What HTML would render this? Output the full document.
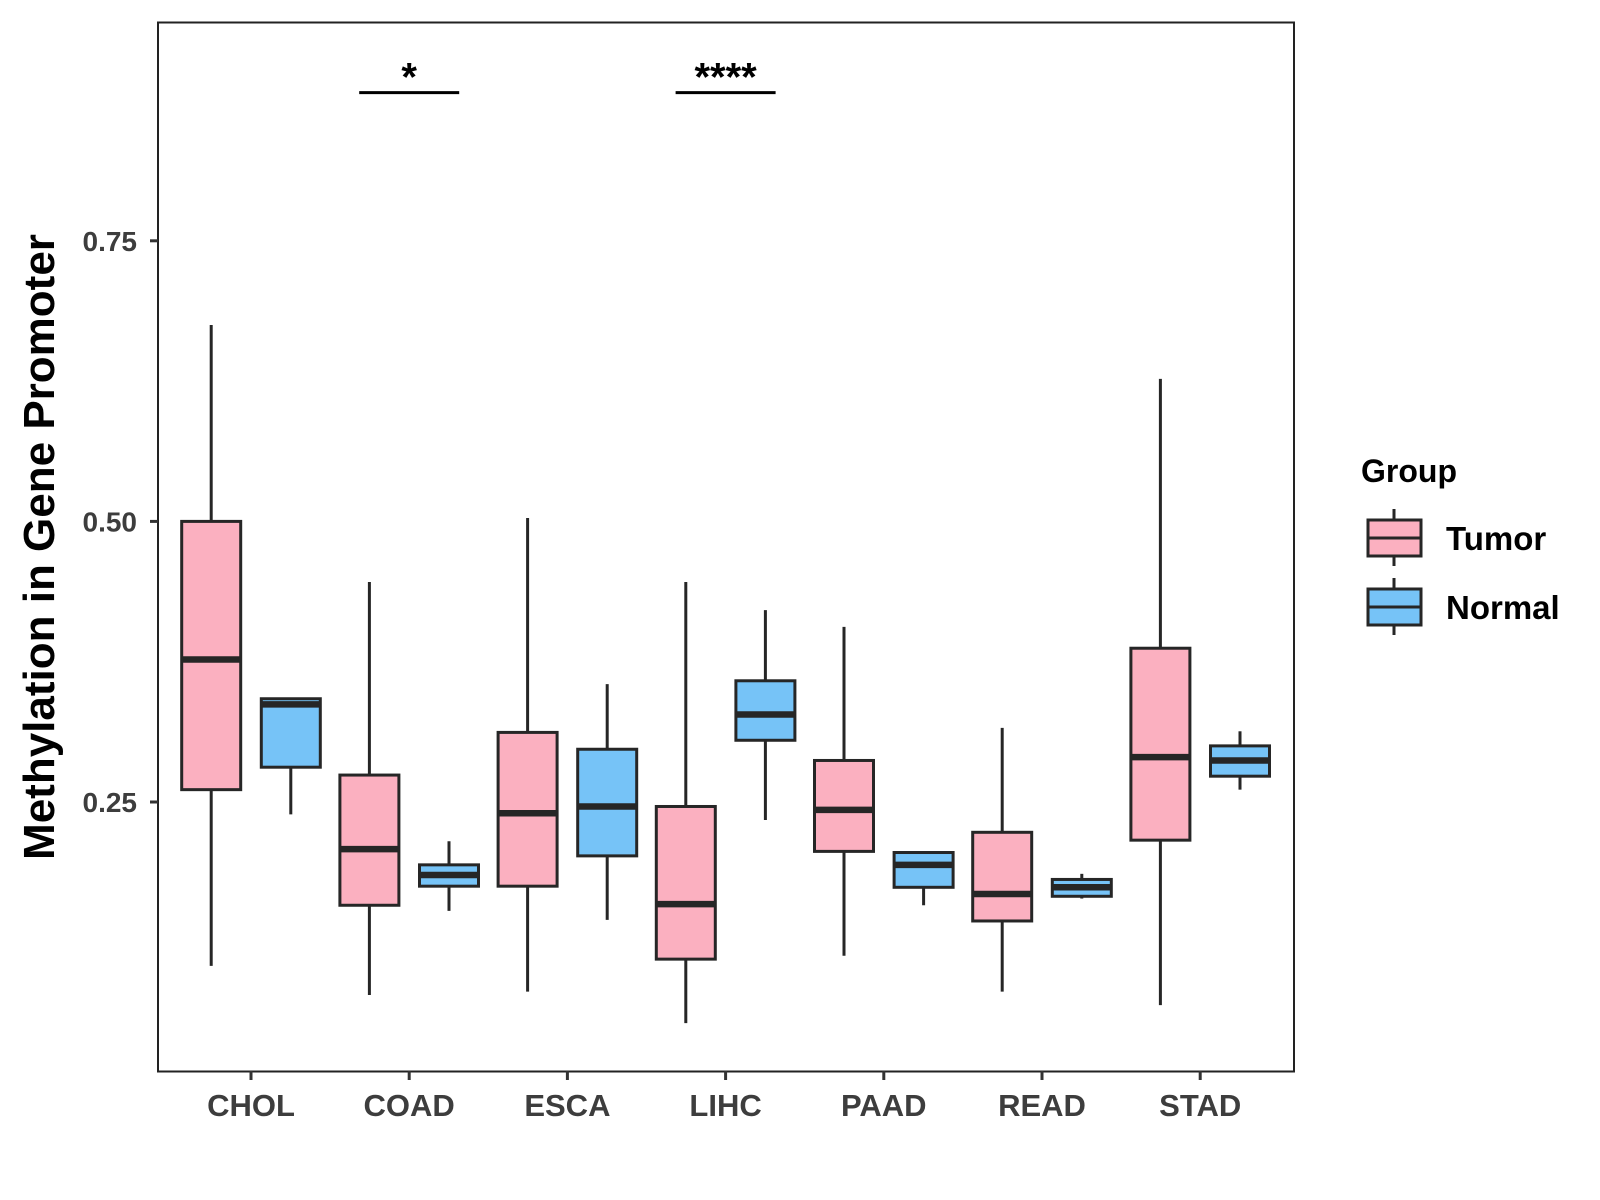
<!DOCTYPE html>
<html><head><meta charset="utf-8"><style>
body{margin:0;background:#fff}
svg{display:block;font-family:"Liberation Sans",Arial,sans-serif}
</style></head><body>
<svg id="chart" width="1600" height="1200" xmlns="http://www.w3.org/2000/svg">
<rect x="158" y="22.5" width="1136" height="1049" fill="#fff" stroke="#222" stroke-width="2"/>
<g id="marks"></g>
<text transform="translate(54,547) rotate(-90)" text-anchor="middle" font-size="44" font-weight="bold" fill="#000">Methylation in Gene Promoter</text>
<g>
<text x="1361" y="482" font-size="32" font-weight="bold" fill="#000">Group</text>
<g>
<line x1="1394" y1="509" x2="1394" y2="566" stroke="#262626" stroke-width="3"/>
<rect x="1368" y="520" width="53" height="36" fill="#FBB0C0" stroke="#262626" stroke-width="3"/>
<line x1="1368" y1="538" x2="1421" y2="538" stroke="#262626" stroke-width="3"/>
<text x="1446" y="550" font-size="33" font-weight="bold" fill="#000">Tumor</text>
</g>
<g>
<line x1="1394" y1="578" x2="1394" y2="635" stroke="#262626" stroke-width="3"/>
<rect x="1368" y="589" width="53" height="36" fill="#76C3F7" stroke="#262626" stroke-width="3"/>
<line x1="1368" y1="607" x2="1421" y2="607" stroke="#262626" stroke-width="3"/>
<text x="1446" y="619" font-size="33" font-weight="bold" fill="#000">Normal</text>
</g>
</g>
</svg>
<script>
const categories=["CHOL","COAD","ESCA","LIHC","PAAD","READ","STAD"];
const tumorStats=[[0.104,0.261,0.377,0.500,0.675],[0.078,0.158,0.208,0.274,0.446],[0.081,0.175,0.240,0.312,0.503],[0.053,0.110,0.159,0.246,0.446],[0.113,0.206,0.243,0.287,0.406],[0.081,0.144,0.168,0.223,0.316],[0.069,0.216,0.290,0.387,0.627]];
const normalStats=[[0.239,0.281,0.337,0.342,0.342],[0.153,0.175,0.185,0.194,0.215],[0.145,0.202,0.246,0.297,0.355],[0.234,0.305,0.328,0.358,0.421],[0.158,0.174,0.194,0.205,0.205],[0.164,0.166,0.174,0.181,0.186],[0.261,0.273,0.287,0.300,0.313]];
const yTicks=[0.25,0.50,0.75];
const yTickLabels=["0.25","0.50","0.75"];
const sigCategories=["COAD","LIHC"];
const sigLabels=["*","****"];
const sigLevel=0.882;

const NS="http://www.w3.org/2000/svg";
const g=document.getElementById("marks");
function y(v){return 521.4-(v-0.5)*1122.4;}
function x(i){return 251+i*158.2;}
function mk(tag,attrs,parent){const e=document.createElementNS(NS,tag);for(const k in attrs)e.setAttribute(k,attrs[k]);(parent||g).appendChild(e);return e;}
yTicks.forEach((t,i)=>{
  const tk=mk("line",{x1:150,x2:158,y1:y(t),y2:y(t),stroke:"#333","stroke-width":3});
  
  
  const tl=mk("text",{x:137,y:y(t)+10,"text-anchor":"end","font-size":28,"font-weight":"bold",fill:"#3d3d3d"});
  tl.textContent=yTickLabels[i];
  
  
});
categories.forEach((c,i)=>{
  const tk=mk("line",{x1:x(i),x2:x(i),y1:1071,y2:1080,stroke:"#333","stroke-width":3});
  
  
  const tl=mk("text",{x:x(i),y:1116,"text-anchor":"middle","font-size":31,"font-weight":"bold",fill:"#3d3d3d"});
  tl.textContent=c;
  
  
  [[tumorStats[i],-39.8,"#FBB0C0","tumor"],[normalStats[i],39.8,"#76C3F7","normal"]].forEach(([s,off,col,nm])=>{
    const cx=x(i)+off,w=59;
    const bg=mk("g",{});
    
    
    mk("line",{x1:cx,x2:cx,y1:y(s[4]),y2:y(s[0]),stroke:"#262626","stroke-width":3},bg);
    mk("rect",{x:cx-w/2,y:y(s[3]),width:w,height:y(s[1])-y(s[3]),fill:col,stroke:"#262626","stroke-width":3},bg);
    mk("line",{x1:cx-w/2,x2:cx+w/2,y1:y(s[2]),y2:y(s[2]),stroke:"#262626","stroke-width":6.5},bg);
  });
});
sigCategories.forEach((c,k)=>{
  const i=categories.indexOf(c);
  const ln=mk("line",{x1:x(i)-50,x2:x(i)+50,y1:y(sigLevel),y2:y(sigLevel),stroke:"#000","stroke-width":3});
  
  
  const t=mk("text",{x:x(i),y:y(sigLevel)-2,"text-anchor":"middle","font-size":40,"font-weight":"bold",fill:"#000"});
  t.textContent=sigLabels[k];
  
  
});
</script>
</body></html>
